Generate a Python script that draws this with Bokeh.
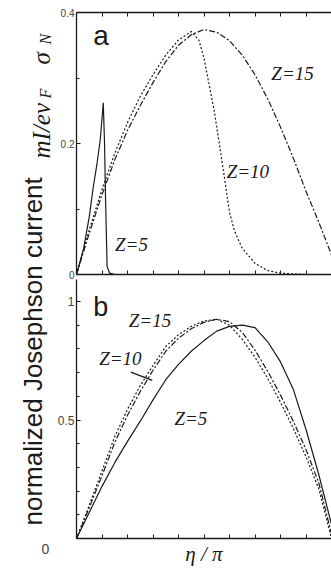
from math import pi
from bokeh.plotting import figure
from bokeh.layouts import row, column
from bokeh.models import Range1d, FixedTicker, Label, LinearAxis
from bokeh.embed import file_html
from bokeh.resources import INLINE

# ---------------- data ----------------
# panel a : mI/ev_F sigma_N  vs eta/pi
a_x5 = [0, 0.027, 0.05, 0.066, 0.08, 0.093, 0.105, 0.110, 0.114, 0.120, 0.130, 0.150, 0.200]
a_y5 = [0, 0.038, 0.088, 0.134, 0.168, 0.205, 0.262, 0.200, 0.114, 0.012, 0.002, 0.0, 0.0]

a_x10 = [0, 0.05, 0.1, 0.15, 0.2, 0.25, 0.3, 0.35, 0.4, 0.45, 0.48, 0.5, 0.52, 0.54,
         0.56, 0.58, 0.6, 0.62, 0.65, 0.7, 0.75, 0.8, 0.9, 1.0]
a_y10 = [0, 0.068, 0.13, 0.185, 0.232, 0.272, 0.305, 0.335, 0.358, 0.371, 0.358, 0.33, 0.29, 0.25,
         0.2, 0.148, 0.095, 0.066, 0.04, 0.017, 0.006, 0.002, 0.0, 0.0]

a_x15 = [0, 0.05, 0.1, 0.15, 0.2, 0.25, 0.3, 0.35, 0.4, 0.45, 0.5, 0.55, 0.6, 0.65, 0.7,
         0.75, 0.8, 0.85, 0.9, 0.95, 1.0]
a_y15 = [0, 0.063, 0.122, 0.175, 0.22, 0.258, 0.293, 0.325, 0.35, 0.366, 0.374, 0.37, 0.357,
         0.335, 0.305, 0.268, 0.225, 0.178, 0.127, 0.08, 0.03]

# panel b : normalized Josephson current vs eta/pi
b_x = [0, 0.05, 0.1, 0.15, 0.2, 0.25, 0.3, 0.35, 0.4, 0.45, 0.5, 0.55, 0.6, 0.65, 0.7,
       0.75, 0.8, 0.85, 0.9, 0.95, 1.0]
b_y5 = [0, 0.11, 0.22, 0.32, 0.41, 0.495, 0.585, 0.67, 0.735, 0.79, 0.835, 0.875, 0.895,
        0.9, 0.89, 0.83, 0.745, 0.63, 0.46, 0.27, 0.06]
b_y10 = [0, 0.14, 0.285, 0.43, 0.545, 0.645, 0.73, 0.81, 0.86, 0.895, 0.918, 0.925, 0.9,
         0.84, 0.765, 0.675, 0.575, 0.465, 0.345, 0.21, 0.0]
b_y15 = [0, 0.13, 0.265, 0.405, 0.52, 0.62, 0.71, 0.79, 0.845, 0.885, 0.912, 0.925, 0.915,
         0.87, 0.795, 0.705, 0.605, 0.495, 0.375, 0.235, 0.02]

x_ticks = [0, 0.1, 0.2, 0.3, 0.4, 0.5, 0.6, 0.7, 0.8, 0.9, 1.0]
a_major = [0, 0.2, 0.4]
a_minor = [0.1, 0.3]
b_major = [0.5, 1]
b_minor = [0, 0.1, 0.2, 0.3, 0.4, 0.6, 0.7, 0.8, 0.9]

y_title = "normalized Josephson current"
x_title = "η / π"

INK = "#1a1a1a"
SANS = "Liberation Sans"
SERIF = "Liberation Serif"

STRIP_W = 54
PANEL_W = 277
TOTAL_H = 568
TOP_H = 279          # panel a canvas (frame 12..274 + room for its "0" label)


def style_axis(ax, ticks, minor, label_size):
    ax.ticker = FixedTicker(ticks=ticks, minor_ticks=minor)
    ax.major_tick_in = 4
    ax.major_tick_out = 0
    ax.minor_tick_in = 3
    ax.minor_tick_out = 0
    ax.axis_line_color = INK
    ax.axis_line_width = 1.3
    ax.major_tick_line_color = INK
    ax.minor_tick_line_color = INK
    ax.major_label_text_font = SANS
    ax.major_label_text_color = "#444444"
    ax.major_label_text_font_size = label_size
    ax.major_label_standoff = 2


def style_xaxis(ax):
    # x axes carry ticks only (no labels): every tick is a minor tick
    ax.ticker = FixedTicker(ticks=[], minor_ticks=x_ticks)
    ax.minor_tick_in = 4
    ax.minor_tick_out = 0
    ax.major_tick_in = 0
    ax.major_tick_out = 0
    ax.axis_line_color = INK
    ax.axis_line_width = 1.3
    ax.minor_tick_line_color = INK
    ax.major_label_standoff = 0


def base_fig(w, h, yr, top_b, bot_b):
    p = figure(width=w, height=h, x_range=Range1d(0, 1), y_range=yr,
               output_backend="svg", toolbar_location=None,
               min_border_left=19, min_border_right=0,
               min_border_top=top_b, min_border_bottom=bot_b)
    p.grid.visible = False
    p.outline_line_color = None
    p.background_fill_color = "white"
    p.border_fill_color = "white"
    return p


# ---------------- panel a ----------------
pa = base_fig(PANEL_W, TOP_H, Range1d(0, 0.4), 12, TOP_H - 274)
style_xaxis(pa.xaxis[0])
style_axis(pa.yaxis[0], a_major, a_minor, "10px")
ax_top = LinearAxis()
style_xaxis(ax_top)
pa.add_layout(ax_top, "above")

pa.line(a_x5, a_y5, line_color=INK, line_width=1.2)
pa.line(a_x10, a_y10, line_color=INK, line_width=1.2, line_dash="2 2")
pa.line(a_x15, a_y15, line_color=INK, line_width=1.2, line_dash="6 2 2 2")

for txt, x, y, font, size, style in [
    ("a", 0.066, 0.365, SANS, "28px", "normal"),
    ("Z=15", 0.764, 0.307, SERIF, "19px", "italic"),
    ("Z=10", 0.589, 0.157, SERIF, "19px", "italic"),
    ("Z=5", 0.151, 0.046, SERIF, "19px", "italic"),
]:
    pa.add_layout(Label(x=x, y=y, text=txt, text_font=font, text_font_size=size,
                        text_font_style=style, text_color=INK,
                        text_align="left", text_baseline="alphabetic"))

# ---------------- panel b ----------------
b_top = (538 - TOP_H) / 237.0     # same scale as before: 237 px per unit
pb = base_fig(PANEL_W, TOTAL_H - TOP_H, Range1d(0, b_top), 0, TOTAL_H - 538)
style_xaxis(pb.xaxis[0])
pb.xaxis[0].axis_label = x_title
pb.xaxis[0].axis_label_text_font = SERIF
pb.xaxis[0].axis_label_text_font_style = "italic"
pb.xaxis[0].axis_label_text_font_size = "21px"
pb.xaxis[0].axis_label_text_color = INK
pb.xaxis[0].axis_label_standoff = 3
style_axis(pb.yaxis[0], b_major, b_minor, "12px")

pb.line(b_x, b_y5, line_color=INK, line_width=1.2)
pb.line(b_x, b_y10, line_color=INK, line_width=1.2, line_dash="2 2")
pb.line(b_x, b_y15, line_color=INK, line_width=1.2, line_dash="6 2 2 2")
pb.segment(x0=[0.213], y0=[0.702], x1=[0.297], y1=[0.667], line_color=INK, line_width=1.3)

for txt, x, y, font, size, style in [
    ("b", 0.066, 0.975, SANS, "27px", "normal"),
    ("Z=15", 0.205, 0.92, SERIF, "19px", "italic"),
    ("Z=10", 0.089, 0.76, SERIF, "19px", "italic"),
    ("Z=5", 0.384, 0.506, SERIF, "19px", "italic"),
]:
    pb.add_layout(Label(x=x, y=y, text=txt, text_font=font, text_font_size=size,
                        text_font_style=style, text_color=INK,
                        text_align="left", text_baseline="alphabetic"))

# ---------------- left label strip (data units = pixels, y up) ----------------
pl = figure(width=STRIP_W, height=TOTAL_H, x_range=Range1d(0, STRIP_W), y_range=Range1d(0, TOTAL_H),
            output_backend="svg", toolbar_location=None,
            x_axis_location=None, y_axis_location=None,
            min_border_left=0, min_border_right=0, min_border_top=0, min_border_bottom=0)
pl.grid.visible = False
pl.outline_line_color = None

pl.add_layout(Label(x=32, y=TOTAL_H - 525, text=y_title, angle=pi / 2, text_font=SANS,
                    text_font_size="26px", text_color=INK,
                    text_align="left", text_baseline="alphabetic"))
for txt, x, ypix, size in [
    ("mI/ev", 41, 158, "25px"),
    ("F", 44.5, 98, "16px"),
    ("σ", 41, 64, "25px"),
    ("N", 44.5, 44, "16px"),
]:
    pl.add_layout(Label(x=x, y=TOTAL_H - ypix, text=txt, angle=pi / 2, text_font=SERIF,
                        text_font_size=size, text_font_style="italic", text_color=INK,
                        text_align="left", text_baseline="middle"))
pl.add_layout(Label(x=45, y=TOTAL_H - 548, text="0", text_font=SANS, text_font_size="14px",
                    text_color="#444444", text_align="center", text_baseline="middle"))

layout = row(pl, column(pa, pb))
open("out.html", "w").write(file_html(layout, INLINE))
